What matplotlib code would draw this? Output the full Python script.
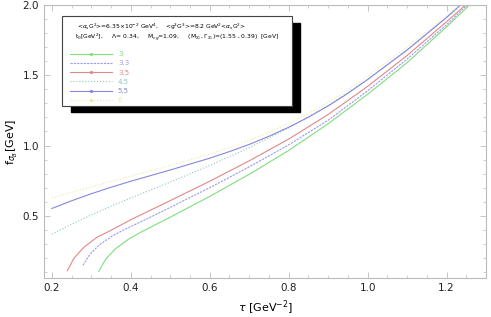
import numpy as np
import matplotlib
matplotlib.use("Agg")
import matplotlib.pyplot as plt
from matplotlib.lines import Line2D
from matplotlib.patches import Rectangle
from matplotlib.ticker import MultipleLocator

# datos: tau [GeV^-2] vs f [GeV] para cada t0
tau_3 = [0.319, 0.336, 0.361, 0.395, 0.43, 0.5, 0.6, 0.7, 0.8, 0.9, 1.0, 1.1, 1.2, 1.258]
f_3 = [0.105, 0.19, 0.265, 0.335, 0.39, 0.49, 0.638, 0.795, 0.965, 1.155, 1.365, 1.59, 1.845, 2.0]

tau_33 = [0.279, 0.296, 0.321, 0.355, 0.39, 0.45, 0.5, 0.6, 0.7, 0.8, 0.9, 1.0, 1.1, 1.2, 1.252]
f_33 = [0.148, 0.225, 0.295, 0.36, 0.41, 0.49, 0.56, 0.70, 0.848, 1.005, 1.18, 1.39, 1.615, 1.86, 2.0]

tau_35 = [0.239, 0.256, 0.281, 0.315, 0.35, 0.4, 0.5, 0.6, 0.7, 0.8, 0.9, 1.0, 1.1, 1.2, 1.248]
f_35 = [0.109, 0.198, 0.276, 0.348, 0.397, 0.472, 0.608, 0.746, 0.891, 1.046, 1.221, 1.421, 1.641, 1.881, 2.0]

tau_45 = [0.2, 0.25, 0.3, 0.35, 0.4, 0.5, 0.6, 0.7, 0.8, 0.9, 1.0, 1.1, 1.2, 1.238]
f_45 = [0.369, 0.44, 0.506, 0.568, 0.627, 0.74, 0.858, 0.985, 1.125, 1.285, 1.47, 1.68, 1.91, 2.0]

tau_55 = [0.2, 0.25, 0.3, 0.35, 0.4, 0.5, 0.6, 0.65, 0.7, 0.75, 0.8, 0.85, 0.9, 0.95, 1.0, 1.1, 1.2, 1.235]
f_55 = [0.552, 0.607, 0.657, 0.703, 0.746, 0.826, 0.91, 0.957, 1.008, 1.066, 1.13, 1.202, 1.282, 1.372, 1.47, 1.68, 1.912, 2.0]

tau_6 = [0.2, 0.25, 0.3, 0.35, 0.4, 0.5, 0.6, 0.65, 0.7, 0.75, 0.8, 0.85, 0.9, 0.95, 1.0, 1.1, 1.2, 1.233]
f_6 = [0.626, 0.667, 0.706, 0.744, 0.782, 0.858, 0.94, 0.986, 1.036, 1.093, 1.157, 1.228, 1.308, 1.397, 1.495, 1.702, 1.925, 2.0]

labels = ["3", "3.3", "3.5", "4.5", "5.5", "6"]
colores = ["#80dd80", "#9a9aee", "#e08888", "#8cc8c0", "#8686e0", "#eaeaa8"]
estilos = ["-", (0, (2, 1)), "-", ":", "-", ":"]
con_marca = [True, False, True, False, True, True]

fig = plt.figure(figsize=(4.91, 3.17), dpi=100)
ax = fig.add_axes([0.0896, 0.123, 0.9002, 0.861])

series = [(tau_3, f_3), (tau_33, f_33), (tau_35, f_35),
          (tau_45, f_45), (tau_55, f_55), (tau_6, f_6)]
for (t, f), c, ls in zip(series, colores, estilos):
    ax.plot(t, f, color=c, ls=ls, lw=0.8)

ax.set_xlim(0.18, 1.3)
ax.set_ylim(0.057, 2.0)
ax.xaxis.set_major_locator(MultipleLocator(0.2))
ax.xaxis.set_minor_locator(MultipleLocator(0.05))
ax.yaxis.set_major_locator(MultipleLocator(0.5))
ax.yaxis.set_minor_locator(MultipleLocator(0.1))
ax.tick_params(which="both", direction="in", top=True, right=True, color="#bbbbbb",
               labelsize=7.5, labelcolor="#222222")
ax.tick_params(which="major", length=4, width=0.6)
ax.tick_params(which="minor", length=2, width=0.5)
for s in ax.spines.values():
    s.set_color("#bbbbbb")
    s.set_linewidth(0.8)

ax.set_xlabel(r"$\tau$ [GeV$^{-2}$]", fontsize=8, labelpad=4)
ax.set_ylabel(r"f$_{\sigma_B}$[GeV]", fontsize=8, labelpad=2)

# caja de la leyenda con sombra
ax.add_patch(Rectangle((0.144, 0.648), 0.467, 0.280, transform=fig.transFigure,
                       facecolor="black", edgecolor="black", zorder=5, clip_on=False))
ax.add_patch(Rectangle((0.127, 0.666), 0.468, 0.284, transform=fig.transFigure,
                       facecolor="white", edgecolor="#444444", lw=0.8, zorder=6, clip_on=False))
ax.text(0.157, 0.916, r"<$\alpha_s$G$^2$>=6.35$\times$10$^{-2}$ GeV$^4$,    <g$^3$G$^3$>=8.2 GeV$^2$<$\alpha_s$G$^2$>",
        transform=fig.transFigure, fontsize=4.3, va="center", zorder=7)
ax.text(0.153, 0.881, r"t$_0$[GeV$^2$],     $\Lambda$= 0.34,     M$_{cg}$=1.09,     (M$_{\Sigma_1}$, $\Gamma_{\Sigma_1}$)=(1.55 , 0.39)  [GeV]",
        transform=fig.transFigure, fontsize=4.3, va="center", zorder=7)

handles = [Line2D([], [], color=c, ls=ls, lw=0.8,
                  marker="o" if m else None, markersize=1.3)
           for c, ls, m in zip(colores, estilos, con_marca)]
leg = ax.legend(handles, labels, loc="upper left", bbox_to_anchor=(0.1426, 0.839),
                bbox_transform=fig.transFigure, frameon=False, fontsize=5,
                handlelength=6.1, handletextpad=0.8, labelspacing=0.47,
                borderpad=0, borderaxespad=0, numpoints=1)
leg.set_zorder(8)
for txt, c in zip(leg.get_texts(), colores):
    txt.set_color(c)

fig.savefig("out.png", dpi=100)
